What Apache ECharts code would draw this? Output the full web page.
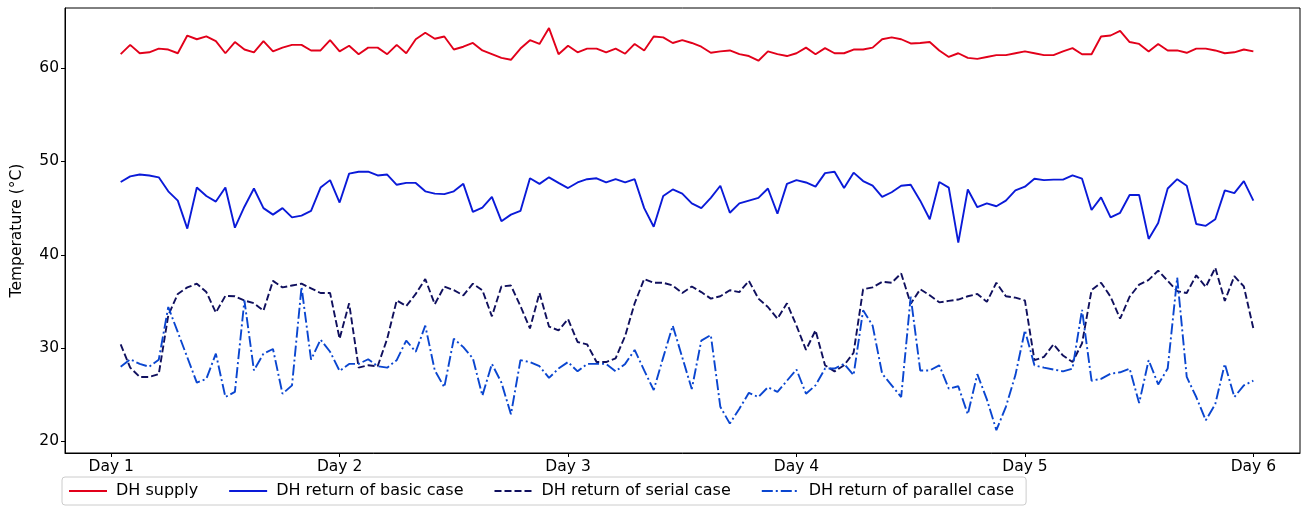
<!DOCTYPE html>
<html>
<head>
<meta charset="utf-8">
<script src="https://cdn.jsdelivr.net/npm/echarts@6/dist/echarts.min.js"></script>
<style>
html,body{margin:0;padding:0;background:#fff;}
#chart{width:1312px;height:509px;}
</style>
</head>
<body>
<div id="chart"></div>
<script>
// Tick labels (one per day, every 24 hours)
const dayLabels = ["Day 1", "Day 2", "Day 3", "Day 4", "Day 5", "Day 6"];
const dayHours = [0, 24, 48, 72, 96, 120];
const yTicks = [20, 30, 40, 50, 60];
const seriesNames = ["DH supply", "DH return of basic case", "DH return of serial case", "DH return of parallel case"];

// Hourly values, hour 1 .. hour 120
const supply = [
61.5,62.5,61.6,61.7,62.1,62.0,61.6,63.5,63.1,63.4,
62.9,61.6,62.8,62.0,61.7,62.9,61.8,62.2,62.5,62.5,
61.9,61.9,63.0,61.8,62.4,61.5,62.2,62.2,61.5,62.5,
61.6,63.1,63.8,63.15,63.4,62.0,62.3,62.7,61.9,61.5,
61.1,60.9,62.1,63.0,62.6,64.3,61.5,62.4,61.7,62.1,
62.1,61.7,62.1,61.55,62.6,61.9,63.4,63.3,62.7,63.0,
62.7,62.3,61.65,61.8,61.9,61.5,61.3,60.8,61.8,61.5,
61.3,61.6,62.2,61.5,62.15,61.6,61.6,62.0,62.0,62.2,
63.1,63.3,63.1,62.65,62.7,62.8,61.9,61.2,61.6,61.1,
61.0,61.2,61.4,61.4,61.6,61.8,61.6,61.4,61.4,61.8,
62.15,61.5,61.5,63.4,63.5,64.0,62.8,62.6,61.8,62.6,
61.9,61.9,61.65,62.1,62.1,61.9,61.6,61.7,62.0,61.8
];
const basicReturn = [
47.8,48.4,48.6,48.5,48.3,46.8,45.8,42.8,47.2,46.3,
45.7,47.2,42.9,45.15,47.1,45.0,44.3,45.0,44.0,44.2,
44.7,47.2,48.0,45.6,48.7,48.9,48.9,48.5,48.6,47.5,
47.7,47.7,46.8,46.55,46.5,46.8,47.6,44.6,45.05,46.2,
43.6,44.3,44.7,48.2,47.6,48.3,47.7,47.15,47.75,48.1,
48.2,47.75,48.1,47.75,48.1,45.0,43.0,46.3,47.0,46.55,
45.5,45.0,46.1,47.4,44.5,45.5,45.8,46.1,47.1,44.4,
47.6,48.0,47.75,47.3,48.75,48.9,47.15,48.8,47.9,47.4,
46.2,46.7,47.4,47.5,45.8,43.8,47.8,47.2,41.3,47.0,
45.1,45.5,45.2,45.8,46.9,47.3,48.15,48.0,48.05,48.05,
48.5,48.15,44.8,46.15,44.0,44.5,46.4,46.4,41.7,43.4,
47.1,48.1,47.4,43.3,43.1,43.8,46.9,46.6,47.9,45.8
];
const serialReturn = [
30.4,27.9,26.9,26.9,27.2,33.5,35.8,36.5,36.9,36.0,
33.8,35.6,35.55,35.1,34.8,34.0,37.2,36.5,36.7,36.9,
36.4,35.9,35.9,31.0,34.8,27.9,28.15,28.05,31.0,35.1,
34.5,35.8,37.4,34.7,36.6,36.2,35.65,36.9,36.2,33.4,
36.6,36.7,34.5,32.1,35.9,32.3,31.9,33.1,30.65,30.4,
28.5,28.5,28.9,31.3,34.8,37.4,37.0,37.0,36.7,35.9,
36.6,36.0,35.3,35.55,36.2,36.0,37.2,35.3,34.4,33.15,
34.8,32.4,29.8,31.9,28.15,27.5,28.15,29.5,36.3,36.5,
37.1,37.0,38.0,34.75,36.3,35.65,34.9,35.05,35.2,35.55,
35.8,34.95,37.0,35.55,35.4,35.1,28.7,29.05,30.4,29.2,
28.5,30.5,36.2,37.0,35.5,33.15,35.5,36.8,37.3,38.3,
37.2,36.1,35.9,37.8,36.55,38.6,35.05,37.7,36.6,32.1
];
const parallelReturn = [
28.0,28.8,28.3,28.0,28.75,34.4,31.7,29.0,26.3,26.7,
29.4,24.75,25.3,35.1,27.6,29.4,29.9,25.1,26.0,36.55,
28.75,30.9,29.6,27.55,28.3,28.3,28.8,28.05,27.9,28.7,
30.8,29.6,32.4,27.6,25.8,31.0,30.1,28.9,24.9,28.3,
26.3,22.9,28.7,28.5,28.05,26.8,27.8,28.5,27.5,28.3,
28.3,28.3,27.5,28.3,29.8,27.6,25.5,29.0,32.4,29.0,
25.6,30.8,31.4,23.7,21.9,23.5,25.2,24.75,25.8,25.3,
26.5,27.7,25.1,26.0,27.8,27.8,28.3,27.1,34.05,32.4,
27.25,26.0,24.75,35.5,27.6,27.6,28.15,25.65,25.9,22.9,
27.2,24.5,21.2,23.7,27.1,31.9,28.15,27.9,27.7,27.5,
27.8,34.1,26.5,26.7,27.25,27.4,27.8,24.1,28.7,26.1,
27.8,37.55,26.9,24.75,22.25,24.0,28.3,24.75,26.0,26.5
];

const toXY = arr => arr.map((v, i) => [i + 1, v]);

const FONT = "DejaVu Sans";
const FS = 15.5;
const chart = echarts.init(document.getElementById('chart'), null, {renderer: 'canvas'});

function lineSeries(name, arr, color, type, width) {
  return {
    name: name, type: 'line', data: toXY(arr),
    symbol: 'circle', symbolSize: 0, showSymbol: false, smooth: false,
    lineStyle: {color: color, width: width, type: type},
    itemStyle: {color: color, opacity: 0},
    emphasis: {disabled: true},
    animation: false
  };
}

chart.setOption({
  animation: false,
  backgroundColor: '#fff',
  grid: {left: 65, right: 12, top: 8, bottom: 56, show: true, borderColor: '#000', borderWidth: 1, containLabel: false},
  xAxis: {
    type: 'value', min: -4.85, max: 124.9,
    axisLine: {show: true, onZero: false, lineStyle: {color: '#000', width: 1}},
    axisTick: {show: true, length: 4, inside: false, lineStyle: {color: '#000'}, customValues: dayHours},
    axisLabel: {color: '#000', fontSize: FS, fontFamily: FONT, margin: 6, customValues: dayHours,
      formatter: v => dayLabels[dayHours.indexOf(v)] || ''},
    splitLine: {show: false}
  },
  yAxis: {
    type: 'value', min: 18.75, max: 66.45,
    name: 'Temperature (°C)', nameLocation: 'middle', nameGap: 40, nameRotate: 90,
    nameTextStyle: {color: '#000', fontSize: FS, fontFamily: FONT},
    axisLine: {show: true, onZero: false, lineStyle: {color: '#000', width: 1}},
    axisTick: {show: true, length: 4, inside: false, lineStyle: {color: '#000'}, customValues: yTicks},
    axisLabel: {color: '#000', fontSize: FS, fontFamily: FONT, margin: 6, customValues: yTicks},
    splitLine: {show: false}
  },
  legend: {
    data: seriesNames,
    left: 62, top: 477,
    orient: 'horizontal',
    itemWidth: 38, itemHeight: 17, itemGap: 30,
    borderColor: '#cccccc', borderWidth: 1, borderRadius: 3,
    padding: [6, 12, 6, 6],
    itemStyle: {opacity: 0, borderWidth: 0},
    textStyle: {color: '#000', fontSize: 16, fontFamily: FONT, padding: [0, 0, 0, 4]}
  },
  series: [
    lineSeries(seriesNames[0], supply, '#e2001a', 'solid', 1.9),
    lineSeries(seriesNames[1], basicReturn, '#0a1ad8', 'solid', 1.9),
    lineSeries(seriesNames[2], serialReturn, '#10105e', [7, 3], 1.9),
    lineSeries(seriesNames[3], parallelReturn, '#0a46d0', [11, 3, 2, 3], 1.9)
  ]
});
</script>
</body>
</html>
